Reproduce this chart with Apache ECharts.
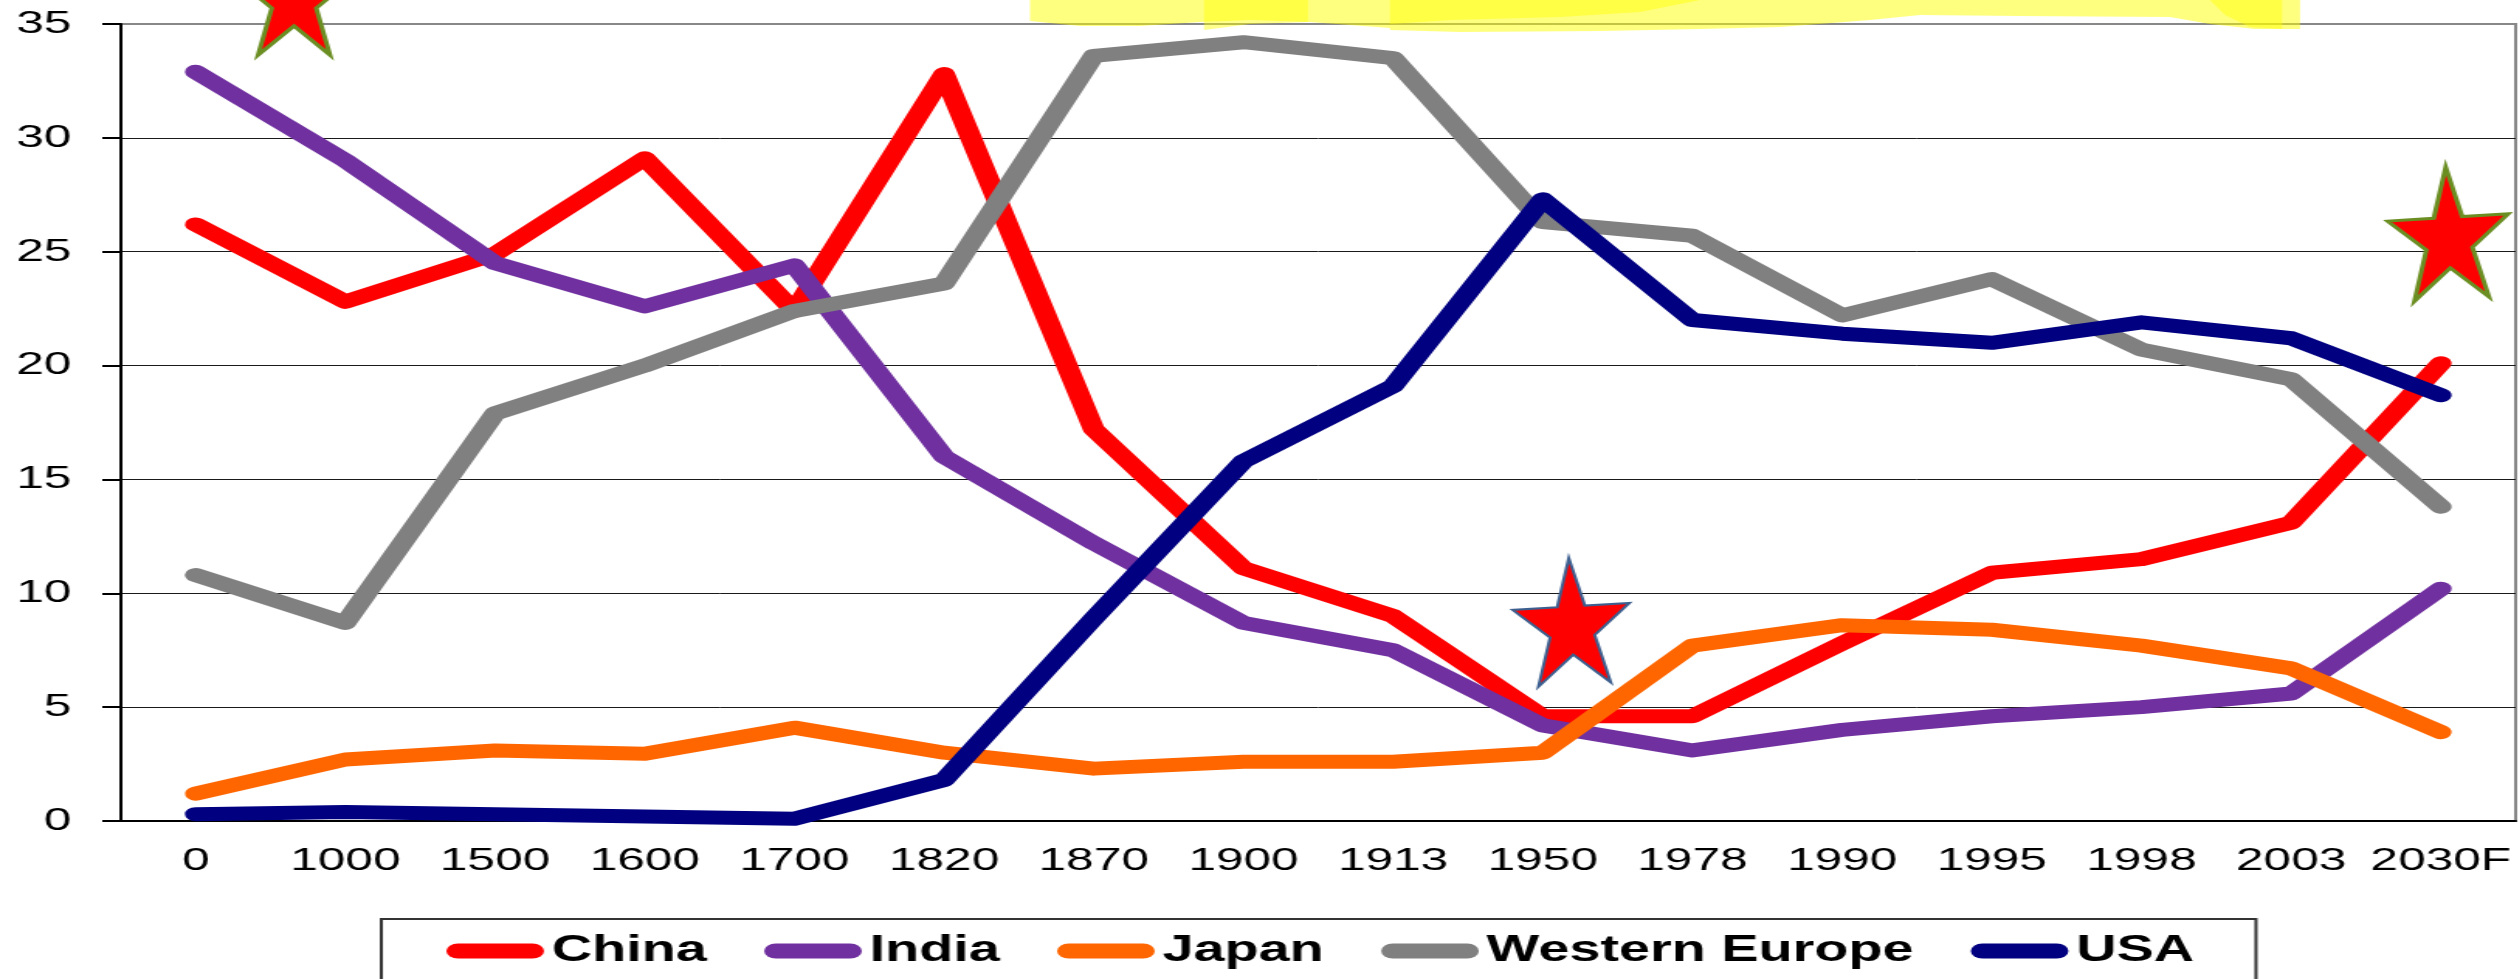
<!DOCTYPE html>
<html>
<head>
<meta charset="utf-8">
<script src="https://cdn.jsdelivr.net/npm/echarts@6/dist/echarts.min.js"></script>
<style>
  html, body { margin: 0; padding: 0; background: #fff; overflow: hidden; }
  #chart { height: 979px; transform-origin: 0 0; }
</style>
</head>
<body>
<div id="chart"></div>
<script>
// the source picture is a chart stretched sideways, so draw narrow and scale the box
var STRETCH = 1.55;

var years = ['0', '1000', '1500', '1600', '1700', '1820', '1870', '1900', '1913',
  '1950', '1978', '1990', '1995', '1998', '2003', '2030F'];
var china = [26.2, 22.8, 24.9, 29.1, 22.4, 32.8, 17.2, 11.1, 9.0, 4.6, 4.6, 7.8, 10.9, 11.5, 13.1, 20.1];
var india = [32.9, 29.0, 24.5, 22.6, 24.4, 16.0, 12.2, 8.7, 7.5, 4.2, 3.1, 4.0, 4.6, 5.0, 5.6, 10.2];
var japan = [1.2, 2.7, 3.1, 2.95, 4.1, 3.0, 2.3, 2.6, 2.6, 3.0, 7.7, 8.6, 8.4, 7.7, 6.7, 3.9];
var westEurope = [10.8, 8.7, 17.9, 20.0, 22.4, 23.6, 33.6, 34.2, 33.5, 26.3, 25.7, 22.2, 23.8, 20.7, 19.4, 13.8];
var usa = [0.3, 0.4, 0.3, 0.2, 0.1, 1.8, 8.9, 15.8, 19.1, 27.3, 22.0, 21.4, 21.0, 21.9, 21.2, 18.7];

var seriesNames = ['China', 'India', 'Japan', 'Western Europe', 'USA'];
var seriesData = [china, india, japan, westEurope, usa];
var seriesColors = ['#ff0000', '#7030a0', '#ff6600', '#808080', '#000080'];

var W = Math.round(2520 / STRETCH);
var el = document.getElementById('chart');
el.style.width = W + 'px';
el.style.transform = 'scaleX(' + STRETCH + ')';

// points given in the final (stretched) picture, x squeezed back here
function starPoints(cx, cy, R, sx, rot) {
  var pts = [];
  for (var k = 0; k < 10; k++) {
    var r = k % 2 ? R * 0.382 : R;
    var a = (-90 + k * 36 + rot) * Math.PI / 180;
    pts.push([(cx + r * Math.cos(a) * sx) / STRETCH, cy + r * Math.sin(a)]);
  }
  return pts;
}

function squeeze(pts) {
  return pts.map(function (p) { return [p[0] / STRETCH, p[1]]; });
}

var highlight1 = squeeze([[1030, 0], [2300, 0], [2300, 29], [2255, 29], [2210, 24], [2170, 17],
  [2020, 16], [1920, 15], [1870, 20], [1780, 27], [1700, 29], [1600, 31], [1460, 32],
  [1390, 30], [1390, 28], [1310, 22], [1250, 20], [1200, 22], [1140, 26], [1080, 26],
  [1040, 22], [1030, 21]]);
var highlight2 = squeeze([[1204, 0], [1308, 0], [1308, 22], [1250, 24], [1204, 30]]);
var highlight3 = squeeze([[1390, 0], [1700, 0], [1640, 12], [1560, 17], [1450, 20], [1390, 24]]);
var highlight4 = squeeze([[2210, 0], [2282, 0], [2282, 29], [2250, 27], [2225, 15]]);

var legendIcon = 'path://M7.5,0 L55.5,0 A7.5,7.5 0 0 1 55.5,15 L7.5,15 A7.5,7.5 0 0 1 7.5,0 Z';

var myChart = echarts.init(el);
var option = {
  animation: false,
  backgroundColor: '#fff',
  textStyle: { fontFamily: 'Liberation Sans, Arial, sans-serif' },
  grid: {
    left: 78,
    right: 3,
    top: 24,
    bottom: 158,
    show: true,
    borderColor: '#888',
    borderWidth: 2
  },
  legend: {
    data: seriesNames,
    left: 246,
    top: 919,
    padding: [14, 40, 80, 42],
    itemGap: 37,
    itemWidth: 63,
    itemHeight: 15,
    icon: legendIcon,
    borderColor: '#333',
    borderWidth: 2,
    textStyle: { fontSize: 36, fontWeight: 'bold', color: '#000' }
  },
  xAxis: {
    type: 'category',
    data: years,
    boundaryGap: true,
    axisLine: { lineStyle: { color: '#000', width: 2 } },
    axisTick: { length: 10, lineStyle: { color: '#000', width: 2 } },
    axisLabel: { fontSize: 32, color: '#000', margin: 24, interval: 0 }
  },
  yAxis: {
    type: 'value',
    min: 0,
    max: 35,
    interval: 5,
    axisLine: { show: true, lineStyle: { color: '#000', width: 2 } },
    axisTick: { show: true, length: 12, lineStyle: { color: '#000', width: 2 } },
    axisLabel: { fontSize: 32, color: '#000', margin: 32 },
    splitLine: {
      lineStyle: {
        color: ['#1a1a1a', '#1a1a1a', '#1a1a1a', '#1a1a1a', '#1a1a1a', '#1a1a1a', '#1a1a1a', '#888'],
        width: 1
      }
    }
  },
  series: seriesNames.map(function (name, i) {
    return {
      name: name,
      type: 'line',
      data: seriesData[i],
      symbol: 'none',
      color: seriesColors[i],
      lineStyle: { width: 14, color: seriesColors[i], cap: 'round', join: 'round' }
    };
  }),
  graphic: {
    elements: [
      { type: 'polygon', z: 100, shape: { points: highlight1 }, style: { fill: 'rgba(255,255,0,0.5)' } },
      { type: 'polygon', z: 101, shape: { points: highlight2 }, style: { fill: 'rgba(255,255,0,0.45)' } },
      { type: 'polygon', z: 101, shape: { points: highlight3 }, style: { fill: 'rgba(255,255,0,0.45)' } },
      { type: 'polygon', z: 101, shape: { points: highlight4 }, style: { fill: 'rgba(255,255,0,0.45)' } },
      { type: 'polygon', z: 110, shape: { points: starPoints(294, 0, 68, 0.9, 0) },
        style: { fill: '#ff0000', stroke: '#6b8e23', lineWidth: 3 } },
      { type: 'polygon', z: 110, shape: { points: starPoints(1572, 628, 70, 0.88, -3) },
        style: { fill: '#ff0000', stroke: '#3d5f8f', lineWidth: 2 } },
      { type: 'polygon', z: 110, shape: { points: starPoints(2449, 240, 73, 0.87, -3) },
        style: { fill: '#ff0000', stroke: '#6b8e23', lineWidth: 3 } }
    ]
  }
};
myChart.setOption(option);
</script>
</body>
</html>
